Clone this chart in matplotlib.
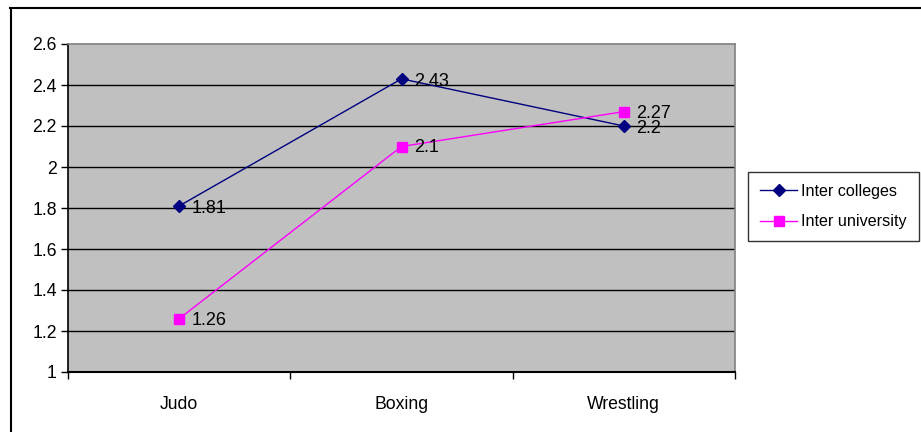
import matplotlib.pyplot as plt
from matplotlib.lines import Line2D

categories = ["Judo", "Boxing", "Wrestling"]
inter_colleges = [1.81, 2.43, 2.2]
inter_university = [1.26, 2.1, 2.27]
yticks = [1, 1.2, 1.4, 1.6, 1.8, 2, 2.2, 2.4, 2.6]
ytick_labels = ["1", "1.2", "1.4", "1.6", "1.8", "2", "2.2", "2.4", "2.6"]

plt.rcParams['font.family'] = ['Liberation Sans', 'DejaVu Sans']

W, H = 921, 432
fig = plt.figure(figsize=(W / 100, H / 100), dpi=100)
fig.patch.set_facecolor('white')

# outer chart border (top and left visible)
fig.add_artist(Line2D([10 / W, 1.0], [1 - 7.5 / H, 1 - 7.5 / H], color='black', lw=1.5))
fig.add_artist(Line2D([10.5 / W, 10.5 / W], [0, 1 - 7.5 / H], color='black', lw=1.5))

ax = fig.add_axes([68 / W, 1 - 372 / H, (735 - 68) / W, (372 - 44) / H])
ax.set_facecolor('#c0c0c0')

x = list(range(len(categories)))
ax.set_xlim(-0.5, len(categories) - 0.5)
ax.set_ylim(1, 2.6)

for yv in yticks[1:-1]:
    ax.axhline(yv, color='black', lw=1, zorder=1)

ax.plot(x, inter_colleges, color='#000080', lw=1, marker='D', markersize=6,
        markerfacecolor='#000080', markeredgecolor='#000080', label='Inter colleges', zorder=3)
ax.plot(x, inter_university, color='#ff00ff', lw=1, marker='s', markersize=6.5,
        markerfacecolor='#ff00ff', markeredgecolor='#ff00ff', label='Inter university', zorder=3)

for xi, v in zip(x, inter_colleges):
    ax.annotate(f"{v:g}", (xi, v), xytext=(9, -2), textcoords='offset points',
                ha='left', va='center', fontsize=13, color='black', zorder=4)
for xi, v in zip(x, inter_university):
    ax.annotate(f"{v:g}", (xi, v), xytext=(9, -1), textcoords='offset points',
                ha='left', va='center', fontsize=13, color='black', zorder=4)

ax.set_yticks(yticks)
ax.set_yticklabels(ytick_labels, fontsize=12.7)
ax.set_xticks([-0.5, 0.5, 1.5, 2.5], minor=False)
ax.set_xticklabels([])
ax.set_xticks(x, minor=True)
ax.set_xticklabels(categories, minor=True, fontsize=12.7)
ax.tick_params(axis='x', which='minor', length=0, pad=17)
ax.tick_params(axis='x', which='major', length=5, width=1, direction='out', color='black')
ax.tick_params(axis='y', length=5, width=1, direction='out', color='black', pad=3)

ax.spines['left'].set_color('black')
ax.spines['bottom'].set_color('black')
ax.spines['left'].set_linewidth(1.2)
ax.spines['bottom'].set_linewidth(1.5)
ax.spines['top'].set_color('#808080')
ax.spines['right'].set_color('#808080')
ax.spines['top'].set_linewidth(1.2)
ax.spines['right'].set_linewidth(1.2)

leg = fig.legend(loc='upper left', bbox_to_anchor=(748 / W, 1 - 172 / H),
                 frameon=True, fancybox=False, fontsize=11.6, handlelength=2.3,
                 handletextpad=0.25, borderpad=0.75, labelspacing=0.95, borderaxespad=0)
leg.get_frame().set_edgecolor('black')
leg.get_frame().set_linewidth(1)

fig.savefig('out.png', dpi=100, facecolor='white')
